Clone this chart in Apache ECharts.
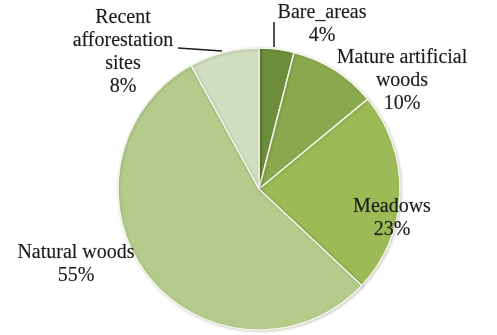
<!DOCTYPE html>
<html>
<head>
<meta charset="utf-8">
<script src="https://cdn.jsdelivr.net/npm/echarts@6/dist/echarts.min.js"></script>
<style>
  html, body { margin: 0; padding: 0; background: #ffffff; }
  #chart { width: 497px; height: 335px; }
</style>
</head>
<body>
<div id="chart"></div>
<script>
// Land cover shares, clockwise from 12 o'clock
const categories = ['Bare_areas', 'Mature artificial woods', 'Meadows', 'Natural woods', 'Recent afforestation sites'];
const labelText = ['Bare_areas', 'Mature artificial\nwoods', 'Meadows', 'Natural woods', 'Recent\nafforestation\nsites'];
const shares = [4, 10, 23, 55, 8];
const colors = ['#6e8e3b', '#8aa84d', '#9cbb56', '#b4cb8c', '#d0ddbf'];

// Where each label block sits (centre x, top y) and its leader line, if any
const labelSpots = [
  { x: 322, y: 1,   line: [[274, 22], [274, 47]] },
  { x: 402, y: 46,  line: null },
  { x: 392, y: 195, line: null },
  { x: 76,  y: 241, line: null },
  { x: 123, y: 6,   line: [[178, 48], [222, 51]] }
];

const chart = echarts.init(document.getElementById('chart'), null, { renderer: 'canvas' });

chart.setOption({
  animation: false,
  backgroundColor: '#ffffff',
  series: [{
    type: 'pie',
    center: [259, 189],
    radius: [0, 141],
    startAngle: 90,
    clockwise: true,
    avoidLabelOverlap: false,
    itemStyle: {
      borderColor: '#f3f8e6',
      borderWidth: 1.5,
      shadowColor: 'rgba(0,0,0,0.18)',
      shadowBlur: 3,
      shadowOffsetX: 1,
      shadowOffsetY: 1
    },
    label: {
      show: true,
      position: 'outside',
      fontFamily: 'Liberation Serif',
      fontSize: 20,
      lineHeight: 23,
      color: '#1a1a1a',
      textBorderColor: 'rgba(26,26,26,0.35)',
      textBorderWidth: 0.4,
      align: 'center',
      formatter: function (p) {
        return labelText[p.dataIndex] + '\n' + p.value + '%';
      }
    },
    labelLine: {
      show: true,
      lineStyle: { color: '#1a1a1a', width: 1.5 }
    },
    labelLayout: function (params) {
      const s = labelSpots[params.dataIndex];
      const out = {
        x: s.x,
        y: s.y,
        align: 'center',
        verticalAlign: 'top',
        hideOverlap: false,
        moveOverlap: false
      };
      out.labelLinePoints = s.line ? [s.line[0], s.line[0], s.line[1]] : [[0, 0], [0, 0], [0, 0]];
      return out;
    },
    data: categories.map(function (name, i) {
      return {
        name: name,
        value: shares[i],
        itemStyle: { color: colors[i] },
        labelLine: { show: labelSpots[i].line !== null }
      };
    })
  }]
});
</script>
</body>
</html>
